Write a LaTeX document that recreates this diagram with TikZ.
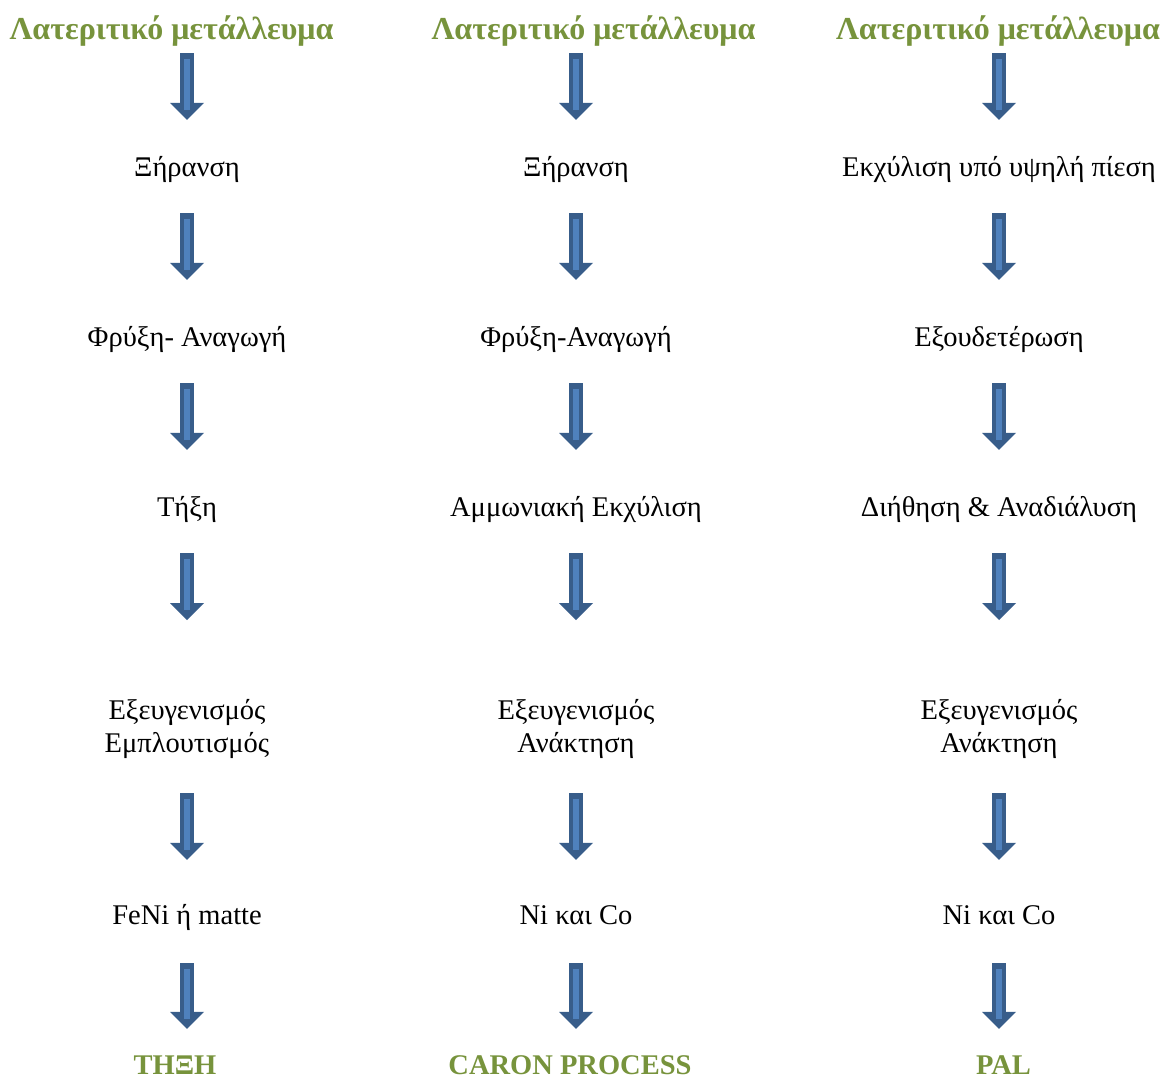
\documentclass[tikz,border=0pt]{standalone}
\usepackage{fontspec}
\setmainfont{Liberation Serif}
\usetikzlibrary{arrows.meta}
\definecolor{oregreen}{HTML}{77933C}
\definecolor{arrowdark}{HTML}{385D8A}
\definecolor{arrowlight}{HTML}{4F81BD}

\begin{document}
\begin{tikzpicture}[x=1pt, y=-1pt,
  stage/.style={inner sep=0pt, text height=20pt, text depth=6pt, font=\fontsize{28.5}{33}\selectfont},
  stagetwo/.style={stage, align=center, text height=53pt, anchor=north},
  heading/.style={stage, text=oregreen, font=\fontsize{28.5}{33}\selectfont\bfseries},
  bigheading/.style={heading, font=\fontsize{32}{38}\selectfont\bfseries},
  flow/.style 2 args={draw=arrowdark, line width=14pt, -{Triangle[width=34pt, length=17pt, line width=0pt]},
    shorten <=#1, shorten >=#2,
    postaction={draw=arrowlight, line width=6pt, -, shorten <=#1+6pt, shorten >=#2+10pt}}]

\useasboundingbox (0,0) rectangle (1163,1079);

\node [bigheading] (h1) at (171.5,32) {Λατεριτικό μετάλλευμα};
\node [bigheading] (h2) at (593.5,32) {Λατεριτικό μετάλλευμα};
\node [bigheading] (h3) at (998,32) {Λατεριτικό μετάλλευμα};

\node [stage] (s11) at (187,169) {Ξήρανση};
\node [stage] (s12) at (187,339) {Φρύξη- Αναγωγή};
\node [stage] (s13) at (187,509) {Τήξη};
\node [stagetwo] (s14) at (187,699) {Εξευγενισμός\\Εμπλουτισμός};
\node [stage] (s15) at (187,917) {FeNi ή matte};

\node [stage] (s21) at (576,169) {Ξήρανση};
\node [stage] (s22) at (576,339) {Φρύξη-Αναγωγή};
\node [stage] (s23) at (576,509) {Αμμωνιακή Εκχύλιση};
\node [stagetwo] (s24) at (576,699) {Εξευγενισμός\\Ανάκτηση};
\node [stage] (s25) at (576,917) {Ni και Co};

\node [stage] (s31) at (999,169) {Εκχύλιση υπό υψηλή πίεση};
\node [stage] (s32) at (999,339) {Εξουδετέρωση};
\node [stage] (s33) at (999,509) {Διήθηση \& Αναδιάλυση};
\node [stagetwo] (s34) at (999,699) {Εξευγενισμός\\Ανάκτηση};
\node [stage] (s35) at (999,917) {Ni και Co};

\node [heading] (r1) at (175,1067) {ΤΗΞΗ};
\node [heading] (r2) at (570,1067) {CARON PROCESS};
\node [heading] (r3) at (1003.5,1067) {PAL};

\draw [flow={8pt}{36pt}] (s11 |- h1.south) -- (s11.north);
\draw [flow={31pt}{46pt}] (s11.south) -- (s12.north);
\draw [flow={31pt}{46pt}] (s12.south) -- (s13.north);
\draw [flow={31pt}{79pt}] (s13.south) -- (s14.north);
\draw [flow={35pt}{44pt}] (s14.south) -- (s15.north);
\draw [flow={33pt}{25pt}] (s15.south) -- (s15 |- r1.north);

\draw [flow={8pt}{36pt}] (s21 |- h2.south) -- (s21.north);
\draw [flow={31pt}{46pt}] (s21.south) -- (s22.north);
\draw [flow={31pt}{46pt}] (s22.south) -- (s23.north);
\draw [flow={31pt}{79pt}] (s23.south) -- (s24.north);
\draw [flow={35pt}{44pt}] (s24.south) -- (s25.north);
\draw [flow={33pt}{25pt}] (s25.south) -- (s25 |- r2.north);

\draw [flow={8pt}{36pt}] (s31 |- h3.south) -- (s31.north);
\draw [flow={31pt}{46pt}] (s31.south) -- (s32.north);
\draw [flow={31pt}{46pt}] (s32.south) -- (s33.north);
\draw [flow={31pt}{79pt}] (s33.south) -- (s34.north);
\draw [flow={35pt}{44pt}] (s34.south) -- (s35.north);
\draw [flow={33pt}{25pt}] (s35.south) -- (s35 |- r3.north);
\end{tikzpicture}
\end{document}
